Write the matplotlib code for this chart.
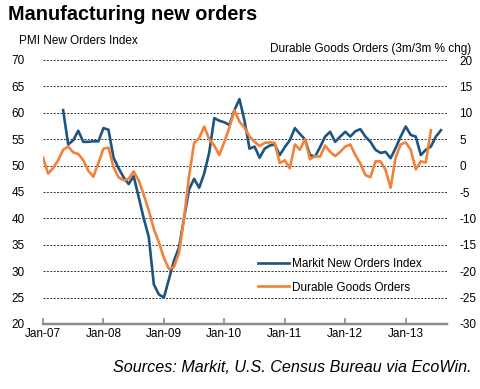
import matplotlib
matplotlib.use("Agg")
import matplotlib.pyplot as plt
import numpy as np

plt.rcParams["font.family"] = ["Liberation Sans", "DejaVu Sans"]
plt.rcParams["axes.unicode_minus"] = False

# months since Jan 2007
tick_labels = ["Jan-07", "Jan-08", "Jan-09", "Jan-10", "Jan-11", "Jan-12", "Jan-13"]
tick_months = [0, 12, 24, 36, 48, 60, 72]

# Markit New Orders Index (left axis), May 2007 onwards
markit_start = 4
markit = [
    60.5, 54.0, 54.8, 56.6, 54.5, 54.5, 54.6, 54.6,
    57.1, 56.8, 51.5, 49.5, 47.8, 46.5, 48.0, 44.0, 40.0, 36.5, 27.5, 25.6,
    25.0, 28.5, 32.0, 34.5, 40.0, 45.5, 47.5, 45.8, 48.5, 52.5, 59.0, 58.5,
    58.2, 57.7, 60.5, 62.6, 58.5, 53.2, 53.6, 51.5, 53.2, 53.8, 54.0, 52.0,
    53.5, 54.8, 57.1, 56.0, 55.0, 52.0, 51.7, 53.5, 55.5, 56.4, 54.5, 55.5,
    56.4, 55.5, 56.5, 56.9, 55.5, 54.5, 53.0, 52.4, 52.6, 51.4, 53.3, 55.5,
    57.4, 55.8, 55.5, 52.0, 53.0, 53.6, 55.5, 56.7,
]

# Durable Goods Orders, 3m/3m % chg (right axis), Jan 2007 onwards
durable_start = 0
durable = [
    1.5, -1.5, -0.5, 1.0, 3.0, 3.6, 2.5, 2.2, 1.0, -1.0, -2.1, 0.5,
    3.2, 3.4, -0.3, -2.2, -2.8, -2.5, -1.1, -2.8, -5.5, -8.5, -12.0, -14.5,
    -17.5, -19.6, -19.2, -16.5, -10.0, -2.0, 4.3, 5.2, 7.4, 5.0, 3.8, 2.0,
    4.5, 7.2, 10.5, 8.3, 7.2, 5.5, 4.5, 3.7, 4.3, 4.4, 4.3, 0.5,
    1.0, -0.5, 4.0, 3.0, 5.0, 1.2, 1.8, 1.7, 3.8, 2.6, 1.8, 2.6,
    3.6, 4.0, 2.0, 0.4, -1.8, -2.2, 0.8, 0.8, -0.8, -4.2, 1.5, 4.0,
    4.4, 3.0, -0.7, 0.8, 0.6, 6.7,
]

blue = "#1d5582"
orange = "#f0823a"

fig = plt.figure(figsize=(4.8, 3.89), dpi=100)
ax = fig.add_axes([43 / 480, 1 - 324 / 389, 404 / 480, 264 / 389])
ax2 = ax.twinx()

x_markit = np.arange(markit_start, markit_start + len(markit))
x_durable = np.arange(durable_start, durable_start + len(durable))

ax2.plot(x_durable, durable, color=orange, lw=1.9, label="Durable Goods Orders", zorder=3)
ax.plot(x_markit, markit, color=blue, lw=1.9, label="Markit New Orders Index", zorder=3)

ax.set_xlim(0, 80.2)
ax.set_ylim(20, 70)
ax2.set_ylim(-30, 20)
ax.set_yticks(np.arange(20, 71, 5))
ax2.set_yticks(np.arange(-30, 21, 5))

for y in range(25, 71, 5):
    ax.axhline(y, color="#333333", lw=0.7, ls=(0, (2, 1.5)), zorder=1)

for a in (ax, ax2):
    for s in ("top", "left", "right"):
        a.spines[s].set_visible(False)
    a.spines["bottom"].set_color("#8c8c8c")
    a.spines["bottom"].set_linewidth(1.6)

ax.set_xticks(tick_months)
ax.set_xticklabels(tick_labels, fontsize=8.5)
ax.tick_params(axis="x", direction="in", length=4, width=1.2, color="#8c8c8c", pad=3)
ax.tick_params(axis="y", length=0, pad=13, labelsize=8.5)
ax2.tick_params(axis="y", length=0, pad=9, labelsize=8.5)

fig.text(8 / 480, 1 - 15 / 389, "Manufacturing new orders", fontsize=14.3, fontweight="bold",
         va="center", ha="left")
fig.text(19 / 480, 1 - 41 / 389, "PMI New Orders Index", fontsize=8.5, va="center", ha="left")
fig.text(471 / 480, 1 - 49 / 389, "Durable Goods Orders (3m/3m % chg)", fontsize=8.5,
         va="center", ha="right")
fig.text(472 / 480, 1 - 368 / 389, "Sources: Markit, U.S. Census Bureau via EcoWin.",
         fontsize=11.6, style="italic", va="center", ha="right")

h1, l1 = ax.get_legend_handles_labels()
h2, l2 = ax2.get_legend_handles_labels()
leg = ax2.legend(h1 + h2, l1 + l2, loc="lower left", bbox_to_anchor=(0.507, 0.075),
                 frameon=False, fontsize=8.5, handlelength=2.6, handletextpad=0.2,
                 labelspacing=1.0)

fig.savefig("out.png", dpi=100)
